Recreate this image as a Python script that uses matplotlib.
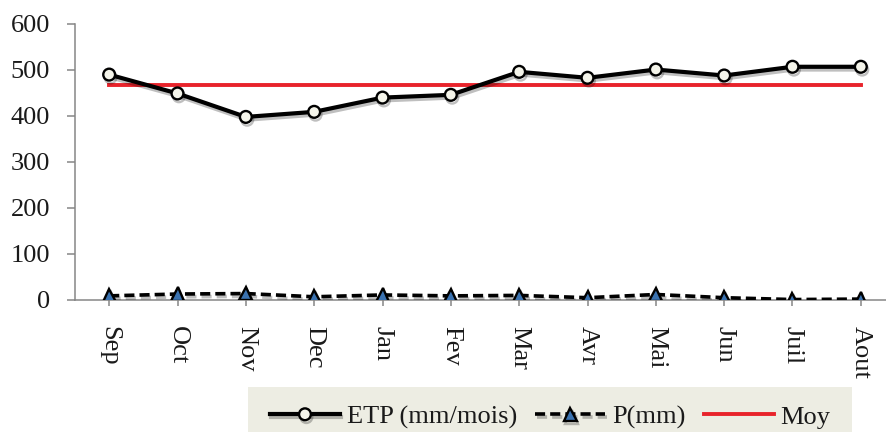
import numpy as np
import matplotlib
matplotlib.use('Agg')
import matplotlib.pyplot as plt
import matplotlib.patheffects as pe
from matplotlib.patches import Rectangle

plt.rcParams['font.family'] = ['Liberation Serif', 'DejaVu Serif']

mois = ['Sep', 'Oct', 'Nov', 'Dec', 'Jan', 'Fev', 'Mar', 'Avr', 'Mai', 'Jun', 'Juil', 'Aout']
etp = [490, 449, 398, 409, 440, 446, 496, 483, 501, 488, 507, 507]
pluie = [9, 13, 14, 7, 11, 9, 10, 5, 12, 5, 1, 2]
moy = [467] * 12

fig = plt.figure(figsize=(8.86, 4.32), dpi=100)
ax = fig.add_axes([75/886, 132/432, 820/886, 276/432])

x = np.arange(len(mois))
shadow = [pe.SimpleLineShadow(offset=(1, -2), alpha=0.25, shadow_color='k'), pe.Normal()]

ax.plot(x, etp, color='black', lw=3, marker='o', markersize=8.5,
        markerfacecolor='#f4f4ea', markeredgecolor='black', markeredgewidth=1.7,
        label='ETP (mm/mois)', path_effects=shadow, zorder=4)
ax.plot(x, pluie, color='black', lw=2.6, linestyle=(0, (2.8, 1.4)), marker='^', markersize=9.5,
        markerfacecolor='#3a72b0', markeredgecolor='black', markeredgewidth=1.7,
        label='P(mm)', path_effects=shadow, zorder=4)
ax.plot(x, moy, color='#e8232b', lw=2.8, label='Moy', zorder=3)

ax.set_xlim(-0.5, 11.5)
ax.set_ylim(0, 600)
ax.set_yticks([0, 100, 200, 300, 400, 500, 600])
ax.set_xticks(x)
ax.set_xticklabels(mois, rotation=270, fontsize=19, color='#1a1a1a')
ax.tick_params(axis='y', labelsize=19, labelcolor='#1a1a1a', length=6, width=1.1,
               color='#868686', pad=12)
ax.tick_params(axis='x', length=4, width=1.1, color='#868686', pad=15)

for s in ['top', 'right']:
    ax.spines[s].set_visible(False)
for s in ['left', 'bottom']:
    ax.spines[s].set_color('#868686')
    ax.spines[s].set_linewidth(1.1)

# fond de la legende
fig.patches.append(Rectangle((248/886, 0), (852-248)/886, 1-387/432,
                             transform=fig.transFigure, facecolor='#ededE3',
                             edgecolor='none', zorder=0))

h, l = ax.get_legend_handles_labels()
leg = fig.legend(h, l, loc='center left', bbox_to_anchor=(270/886, 1-417/432),
                 ncol=3, frameon=False, fontsize=19, borderpad=0, borderaxespad=0,
                 handlelength=2.65, handletextpad=0.25, columnspacing=0.7)
for t in leg.get_texts():
    t.set_color('#1a1a1a')

fig.savefig('out.png', dpi=100)
